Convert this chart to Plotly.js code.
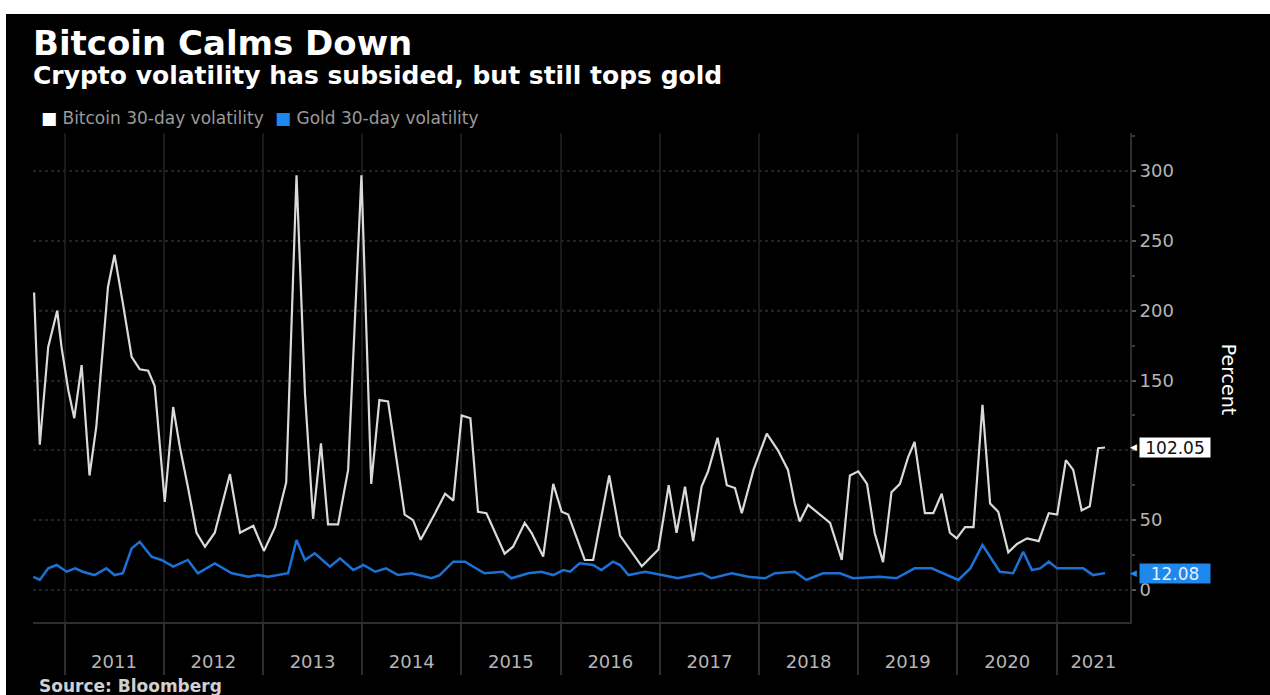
<!DOCTYPE html>
<html>
<head>
<meta charset="utf-8">
<script src="https://cdn.plot.ly/plotly-3.0.1.min.js"></script>
<style>
  html, body { margin: 0; padding: 0; background: #ffffff; width: 1270px; height: 695px; overflow: hidden; }
  #chart { position: absolute; left: 6px; top: 14px; width: 1264px; height: 681px; background: #000; }
</style>
</head>
<body>
<div id="chart"></div>
<script>
// ---- Data ----
const btcDates = [
  "2010-09-11","2010-10-02","2010-11-02","2010-12-05","2010-12-21",
  "2011-01-15","2011-02-06","2011-03-05","2011-04-03","2011-04-28","2011-06-10","2011-07-04","2011-08-04","2011-09-05","2011-10-05","2011-11-05","2011-11-29",
  "2012-01-05","2012-02-05","2012-02-29","2012-03-30","2012-05-01","2012-06-01","2012-07-07","2012-09-01","2012-10-08","2012-11-26",
  "2013-01-04","2013-02-14","2013-03-27","2013-05-04","2013-06-04","2013-07-04","2013-08-02","2013-08-28","2013-10-04","2013-11-10","2013-12-29",
  "2014-02-03","2014-03-05","2014-04-06","2014-05-24","2014-06-06","2014-07-07","2014-08-04","2014-09-26","2014-11-02","2014-12-02",
  "2015-01-02","2015-02-03","2015-03-03","2015-04-03","2015-05-03","2015-06-09","2015-07-10","2015-08-22","2015-09-16","2015-10-29","2015-12-05",
  "2016-01-05","2016-01-29","2016-03-30","2016-04-30","2016-06-28","2016-08-07","2016-10-26","2016-12-26",
  "2017-02-02","2017-03-03","2017-04-03","2017-05-03","2017-06-03","2017-06-27","2017-08-01","2017-09-04","2017-10-04","2017-10-29","2017-12-11",
  "2018-01-29","2018-03-11","2018-04-17","2018-05-12","2018-05-30","2018-06-30","2018-09-19","2018-11-01","2018-12-01",
  "2019-01-01","2019-02-02","2019-03-02","2019-04-02","2019-05-03","2019-06-03","2019-07-03","2019-07-27","2019-09-03","2019-10-04","2019-11-04","2019-12-04","2019-12-29",
  "2020-01-29","2020-02-29","2020-04-02","2020-04-30","2020-05-30","2020-07-06","2020-08-07","2020-09-13","2020-10-26","2020-12-02",
  "2021-01-02","2021-02-03","2021-03-02","2021-04-02","2021-05-02","2021-06-02","2021-06-27"
];
const btcVol = [
  213,104,174,200,174,
  143,123,161,82,117,217,240,205,167,158,157,146,
  63,131,103,74,41,31,41,83,41,46,
  28,45,77,297,141,51,105,47,47,86,297,
  76,136,135,69,54,50,36,55,69,64,
  125,123,56,55,42,26,31,48,41,24,76,
  56,54,21.5,21.5,82,39,17,29,
  75,41,74,35,74,85,109,75,73,55,86,
  112,100,86,62,49,61,48,21.5,82,
  85,76,41,20,70,76,95,106,55,55,69,41,37,
  45,45,132.5,62,56,27,33,37,35,55,
  54,93,86,57,60,101.5,102.05
];
const goldDates = [
  "2010-09-08","2010-10-02","2010-11-02","2010-12-03",
  "2011-01-09","2011-02-09","2011-03-09","2011-04-21","2011-06-04","2011-07-04","2011-08-04","2011-09-05","2011-10-05","2011-11-17","2011-12-24",
  "2012-02-05","2012-03-30","2012-05-06","2012-07-07","2012-09-08","2012-11-08","2012-12-14",
  "2013-01-20","2013-04-03","2013-05-04","2013-06-04","2013-07-10","2013-09-04","2013-10-11","2013-11-29",
  "2014-01-05","2014-02-18","2014-03-30","2014-05-12","2014-07-01","2014-09-13","2014-10-13","2014-12-02",
  "2015-01-14","2015-03-27","2015-06-03","2015-07-04","2015-09-04","2015-10-22","2015-12-05",
  "2016-01-11","2016-02-05","2016-03-11","2016-04-30","2016-05-30","2016-07-12","2016-08-07","2016-09-07","2016-11-07",
  "2017-01-08","2017-03-08","2017-06-03","2017-07-10","2017-09-22","2017-11-22",
  "2018-01-23","2018-02-28","2018-05-12","2018-06-24","2018-08-24","2018-10-25","2018-12-13",
  "2019-03-20","2019-05-21","2019-07-27","2019-09-28","2019-11-10",
  "2020-01-04","2020-02-17","2020-04-02","2020-04-30","2020-06-05","2020-07-24","2020-08-30","2020-10-01","2020-10-31","2020-12-02",
  "2021-01-02","2021-04-08","2021-05-14","2021-06-27"
];
const goldVol = [
  9.5,7.2,15.5,17.9,
  13.1,15.5,13.1,10.7,15.5,10.7,12,29.8,34.6,23.8,21.5,
  16.7,21.5,12,19.1,12,9.5,10.7,
  9.5,12,35.8,21.5,26.3,16.7,22.7,14.3,
  17.9,13.1,15.5,10.7,12,8.4,10.7,20.3,
  20.3,12,13.1,8.4,12,13.1,10.7,
  14.3,13.1,19.1,17.9,14.3,20.3,17.9,10.7,13.1,
  10.7,8.4,12,8.4,12,9.5,
  8.4,12,13.1,7.2,12,12,8.4,
  9.5,8.4,15.5,15.5,12,
  7.2,15.5,32.2,23.8,13.1,12,27.4,14.3,15.5,20.3,
  15.5,15.5,10.7,12.08
];
const yearLabels = ["2011","2012","2013","2014","2015","2016","2017","2018","2019","2020","2021"];
const yTicks = [0,50,100,150,200,250,300];
// the 100 label is hidden behind the last-value box in the reference
const yTickText = ["0","50","","150","200","250","300"];
const seriesNames = ["Bitcoin 30-day volatility","Gold 30-day volatility"];

// ---- Layout helpers ----
const xRange = ["2010-09-07","2021-09-27"];
const yRange = [-22.9, 327.2];
const FONT = "DejaVu Sans";
const BTC_COLOR = "#dadada";
const GOLD_COLOR = "#1b72d6";
const GOLD_BOX = "#1e88ec";

function toMs(s){ return new Date(s + "T00:00:00Z").getTime(); }
function msToStr(ms){ return new Date(ms).toISOString().slice(0,10); }
const yearStarts = yearLabels.map(y => y + "-01-01");
const labelPos = yearLabels.map(y => {
  const a = Math.max(toMs(y + "-01-01"), toMs(xRange[0]));
  const b = Math.min(toMs((+y + 1) + "-01-01"), toMs(xRange[1]));
  return msToStr((a + b) / 2);
});

const traces = [
  { type: "scatter", mode: "lines", x: btcDates, y: btcVol, name: seriesNames[0],
    line: { color: BTC_COLOR, width: 2.2 }, showlegend: false, hoverinfo: "skip" },
  { type: "scatter", mode: "lines", x: goldDates, y: goldVol, name: seriesNames[1],
    line: { color: GOLD_COLOR, width: 2.5 }, showlegend: false, hoverinfo: "skip" },
  // empty carrier trace so the year-label axis is drawn
  { type: "scatter", mode: "lines", x: xRange, y: [null, null], xaxis: "x2", yaxis: "y",
    showlegend: false, hoverinfo: "skip", line: { color: "rgba(0,0,0,0)" } }
];

const lastBtc = btcVol[btcVol.length - 1];
const lastGold = goldVol[goldVol.length - 1];

const annotations = [
  { xref: "paper", yref: "paper", x: -0.002, y: 1.184, xanchor: "left", yanchor: "middle", showarrow: false,
    text: "<b>Bitcoin Calms Down</b>", font: { family: FONT, size: 34, color: "#ffffff" } },
  { xref: "paper", yref: "paper", x: -0.002, y: 1.1166, xanchor: "left", yanchor: "middle", showarrow: false,
    text: "<b>Crypto volatility has subsided, but still tops gold</b>", font: { family: FONT, size: 25, color: "#ffffff" } },
  { xref: "paper", yref: "paper", x: 0.0055, y: 1.0307, xanchor: "left", yanchor: "middle", showarrow: false,
    text: '<span style="color:#ffffff">■</span> ' + seriesNames[0], font: { family: FONT, size: 17, color: "#9a9a9a" } },
  { xref: "paper", yref: "paper", x: 0.2185, y: 1.0307, xanchor: "left", yanchor: "middle", showarrow: false,
    text: '<span style="color:' + GOLD_BOX + '">■</span> ' + seriesNames[1], font: { family: FONT, size: 17, color: "#9a9a9a" } },
  { xref: "paper", yref: "paper", x: 1.0905, y: 0.4949, xanchor: "center", yanchor: "middle", showarrow: false,
    textangle: 90, text: "Percent", font: { family: FONT, size: 19, color: "#ffffff" } },
  { xref: "paper", yref: "paper", x: 0.0036, y: -0.131, xanchor: "left", yanchor: "middle", showarrow: false,
    text: "<b>Source: Bloomberg</b>", font: { family: FONT, size: 17, color: "#d0d0d0" } },
  // value boxes
  { xref: "paper", yref: "y", x: 1.0082, y: lastBtc, xanchor: "left", yanchor: "middle", showarrow: false,
    text: lastBtc.toFixed(2), bgcolor: "#ffffff", width: 68, height: 17, borderpad: 1,
    font: { family: FONT, size: 17, color: "#111111" } },
  { xref: "paper", yref: "y", x: 1.0082, y: lastBtc, xanchor: "right", yanchor: "middle", showarrow: false,
    text: "◀", font: { family: FONT, size: 9, color: "#ffffff" } },
  { xref: "paper", yref: "y", x: 1.0082, y: lastGold, xanchor: "left", yanchor: "middle", showarrow: false,
    text: lastGold.toFixed(2), bgcolor: GOLD_BOX, width: 68, height: 17, borderpad: 1,
    font: { family: FONT, size: 17, color: "#e4f0ff" } },
  { xref: "paper", yref: "y", x: 1.0082, y: lastGold, xanchor: "right", yanchor: "middle", showarrow: false,
    text: "◀", font: { family: FONT, size: 9, color: GOLD_BOX } }
];

const layout = {
  width: 1264, height: 681,
  paper_bgcolor: "#000000", plot_bgcolor: "#000000",
  margin: { l: 27, r: 140, t: 119, b: 73 },
  showlegend: false,
  xaxis: {
    type: "date", range: xRange, tickmode: "array", tickvals: yearStarts,
    showticklabels: false, ticks: "outside", ticklen: 51, tickwidth: 2, tickcolor: "#2e2e2e",
    showgrid: true, gridcolor: "#1a1a1a", gridwidth: 2,
    showline: true, linecolor: "#2e2e2e", linewidth: 2, zeroline: false, fixedrange: true
  },
  xaxis2: {
    type: "date", range: xRange, overlaying: "x", anchor: "y", side: "bottom",
    tickmode: "array", tickvals: labelPos, ticktext: yearLabels,
    ticks: "outside", ticklen: 23, tickcolor: "rgba(0,0,0,0)",
    showgrid: false, showline: false, zeroline: false, fixedrange: true,
    tickfont: { family: FONT, size: 18, color: "#b5b5b5" }
  },
  yaxis: {
    side: "right", range: yRange, tickmode: "array", tickvals: yTicks, ticktext: yTickText,
    ticks: "outside", ticklen: 4, tickwidth: 2, tickcolor: "#555555",
    showline: true, linecolor: "#2e2e2e", linewidth: 2,
    showgrid: true, gridcolor: "#222222", griddash: "dot", gridwidth: 2,
    zeroline: false, fixedrange: true,
    tickfont: { family: FONT, size: 18, color: "#b5b5b5" },
    minor: { dtick: 25, tick0: 0, ticks: "outside", ticklen: 3, tickcolor: "#3a3a3a", showgrid: false }
  },
  shapes: [
    { type: "line", xref: "paper", yref: "y", x0: 0, x1: 1, y0: 200, y1: 200,
      line: { color: "#3a3a3a", width: 2, dash: "dot" }, layer: "below" }
  ],
  annotations: annotations
};

Plotly.newPlot("chart", traces, layout, { staticPlot: true, displayModeBar: false });
</script>
</body>
</html>
